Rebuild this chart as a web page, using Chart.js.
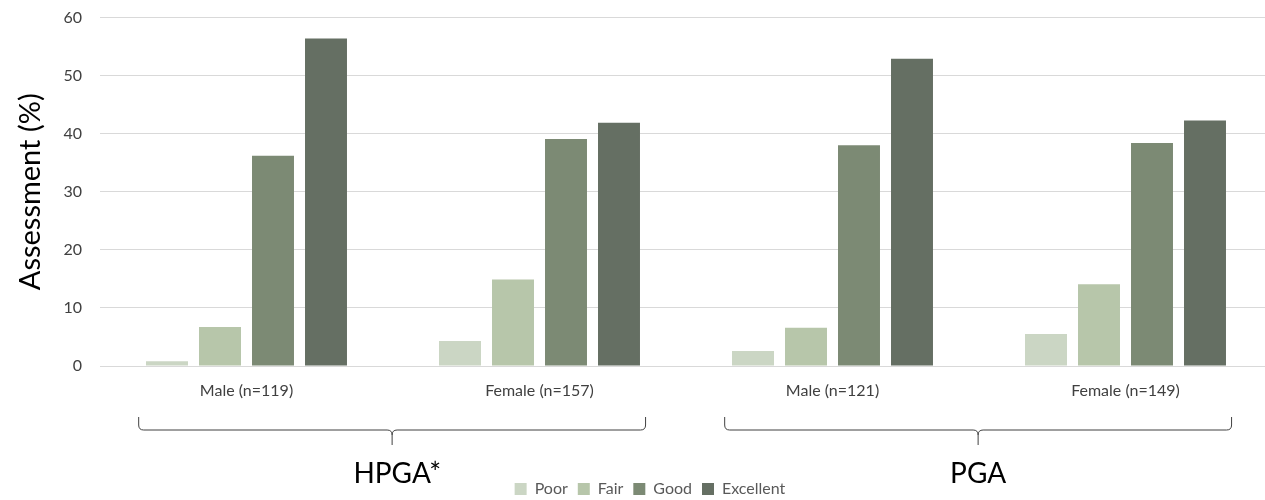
<!DOCTYPE html>
<html>
<head>
<meta charset="utf-8">
<script src="https://cdn.jsdelivr.net/npm/chart.js@4"></script>
<style>
html,body{margin:0;padding:0;background:#fff;}
#wrap{width:1265px;height:500px;overflow:hidden;position:relative;}
canvas{display:block;}
</style>
</head>
<body>
<div id="wrap"><canvas id="c" width="1272" height="507"></canvas></div>
<script>
const categories = ['Male (n=119)', 'Female (n=157)', 'Male (n=121)', 'Female (n=149)'];
const seriesNames = ['Poor', 'Fair', 'Good', 'Excellent'];
const poor = [0.8, 4.3, 2.6, 5.5];
const fair = [6.7, 14.9, 6.6, 14.1];
const good = [36.2, 39.1, 38.0, 38.4];
const excellent = [56.4, 41.9, 52.9, 42.3];
const yTicks = [0, 10, 20, 30, 40, 50, 60];
const groupLabels = ['HPGA*', 'PGA'];
const groupSpans = [[0, 1], [2, 3]];
const colors = ['#cbd6c4', '#b7c6aa', '#7c8a74', '#656f63'];

const FONT = 'Lato, "Open Sans", sans-serif';

const bracePlugin = {
  id: 'braces',
  afterLayout(chart) {
    const lg = chart.legend;
    if (lg) { lg.left += 14; lg.right += 14; }
  },
  afterDraw(chart) {
    const ctx = chart.ctx;
    const x = chart.scales.x;
    const bottom = chart.chartArea.bottom;
    const cw = x.getPixelForValue(1) - x.getPixelForValue(0);
    const yTop = bottom + 51, yMid = bottom + 64, yDip = bottom + 79;
    ctx.save();
    ctx.strokeStyle = '#404040';
    ctx.lineWidth = 1;
    groupSpans.forEach((span, gi) => {
      const l = x.getPixelForValue(span[0]) - 0.368 * cw;
      const r = x.getPixelForValue(span[1]) + 0.362 * cw;
      const c = (l + r) / 2;
      const rad = 5;
      ctx.beginPath();
      ctx.moveTo(l, yTop);
      ctx.lineTo(l, yMid - rad);
      ctx.quadraticCurveTo(l, yMid, l + rad, yMid);
      ctx.lineTo(c - rad, yMid);
      ctx.quadraticCurveTo(c, yMid, c, yMid + rad);
      ctx.lineTo(c, yDip);
      ctx.moveTo(c, yMid + rad);
      ctx.quadraticCurveTo(c, yMid, c + rad, yMid);
      ctx.lineTo(r - rad, yMid);
      ctx.quadraticCurveTo(r, yMid, r, yMid - rad);
      ctx.lineTo(r, yTop);
      ctx.stroke();
      ctx.fillStyle = '#000000';
      ctx.font = '28px ' + FONT;
      ctx.textAlign = 'left';
      ctx.textBaseline = 'middle';
      const label = groupLabels[gi];
      const base = label.replace(/\*+$/, '');
      const w = ctx.measureText(base).width;
      ctx.fillText(label, c - w / 2, bottom + 108);
    });
    ctx.restore();
  }
};

new Chart(document.getElementById('c'), {
  type: 'bar',
  data: {
    labels: categories,
    datasets: [poor, fair, good, excellent].map((d, i) => ({
      label: seriesNames[i],
      data: d,
      backgroundColor: colors[i],
      borderWidth: 0,
      barPercentage: 0.792,
      categoryPercentage: 0.7235
    }))
  },
  options: {
    responsive: false,
    animation: false,
    layout: { padding: { top: 9, left: 0, right: 0, bottom: 0 } },
    plugins: {
      legend: {
        position: 'bottom',
        labels: {
          boxWidth: 12, boxHeight: 12, padding: 10,
          color: '#595959',
          font: { family: FONT, size: 16 }
        }
      },
      tooltip: { enabled: false }
    },
    scales: {
      x: {
        grid: { display: false, drawTicks: false },
        border: { color: '#d9d9d9', width: 1 },
        ticks: { color: '#404040', font: { family: FONT, size: 16 }, padding: 15 },
        afterFit(s) { s.height = 105; }
      },
      y: {
        min: 0, max: 60,
        afterBuildTicks(s) { s.ticks = yTicks.map(v => ({ value: v })); },
        grid: { color: '#d9d9d9', drawTicks: true, tickLength: 10, tickColor: 'rgba(0,0,0,0)' },
        border: { display: false },
        ticks: { color: '#404040', font: { family: FONT, size: 16 }, padding: 8 },
        title: {
          display: true, text: 'Assessment (%)', color: '#000000',
          font: { family: FONT, size: 29 }, padding: { top: 13, bottom: 0 }
        },
        afterFit(s) { s.width = 100; }
      }
    }
  },
  plugins: [bracePlugin]
});
</script>
</body>
</html>
